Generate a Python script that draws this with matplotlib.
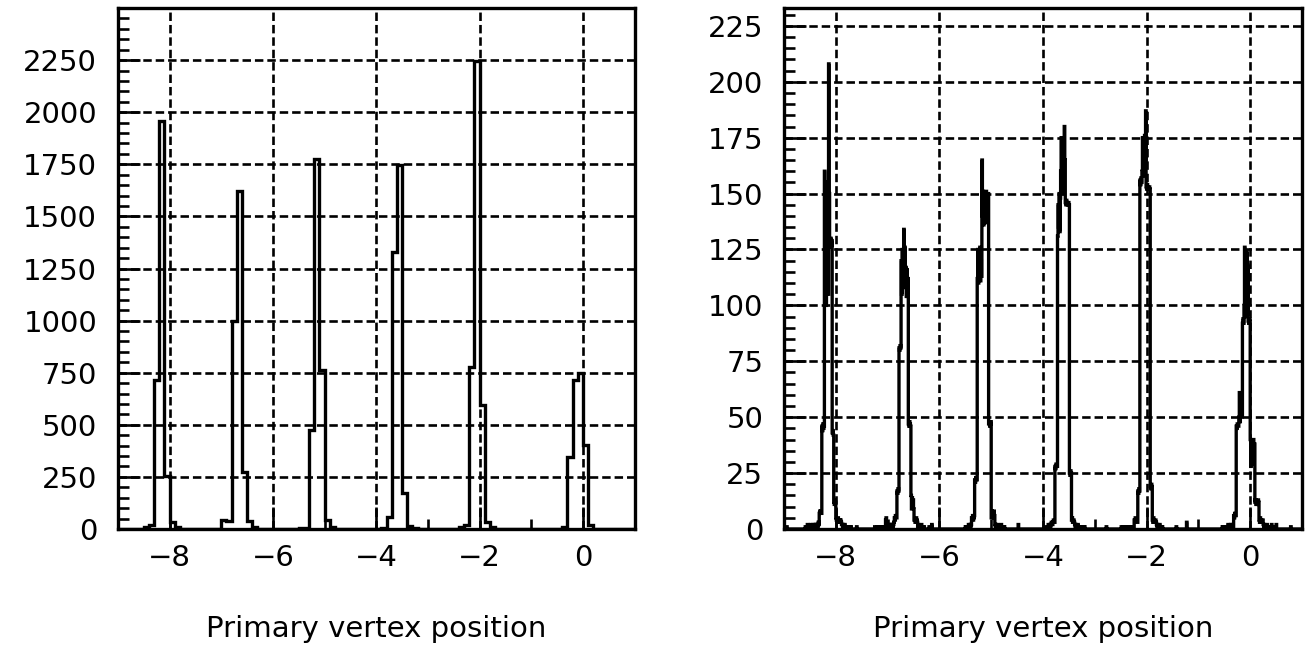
import numpy as np
import matplotlib
matplotlib.use("Agg")
import matplotlib.pyplot as plt
from matplotlib.ticker import MultipleLocator, FixedLocator

# ---- left panel: 100 bins of 0.1 between -9 and 1
left_lo, left_hi = -9.0, 1.0
left_counts = [
    0, 0, 0, 0, 0, 10, 20, 714, 1960, 255,        # -9.0 .. -8.1
    35, 8, 0, 0, 0, 0, 0, 0, 0, 0,                # -8.0 .. -7.1
    45, 40, 996, 1620, 274, 37, 8, 0, 0, 0,       # -7.0 .. -6.1
    0, 0, 0, 0, 0, 5, 5, 476, 1775, 762,          # -6.0 .. -5.1
    45, 8, 0, 0, 0, 0, 0, 0, 0, 0,                # -5.0 .. -4.1
    0, 5, 58, 1327, 1748, 174, 13, 5, 0, 0,       # -4.0 .. -3.1
    0, 0, 0, 0, 0, 0, 8, 20, 775, 2245,           # -3.0 .. -2.1
    597, 32, 8, 0, 0, 0, 0, 0, 0, 0,              # -2.0 .. -1.1
    0, 0, 0, 0, 0, 0, 8, 345, 714, 750,           # -1.0 .. -0.1
    403, 20, 0, 0, 0, 0, 0, 0, 0, 0,              #  0.0 ..  0.9
]

# ---- right panel: 1000 bins of 0.01, given as runs of bins around each peak
right_lo, right_hi, right_nbins = -9.0, 1.0, 1000
right_seg_start = [-8.60, -7.25, -5.50, -3.95, -2.45, -0.55]
right_seg_counts = [
    # peak near -8.2
    [0, 1, 0, 0, 1, 2, 1, 0, 1, 1, 0, 2, 1, 1, 0, 1, 2, 1, 1, 2, 1, 2, 1, 2, 2, 1, 3, 2,
     7, 8, 7, 8, 7,
     46, 44, 47, 45, 46,
     160, 110, 150, 100, 145, 120, 155, 105,
     208, 150,
     129, 126, 130, 127, 129,
     43, 44, 42,
     12, 11, 13, 12,
     5, 4, 3, 4, 5, 3, 4, 4, 3, 4, 3, 2,
     2, 1, 2, 1, 1, 2, 0, 1, 1, 0, 1, 0, 1, 0, 0, 1, 0, 1],
    # peak near -6.7
    [1, 0, 0, 0, 1, 0, 0, 1, 0, 0, 1, 0, 1, 0, 0, 1, 0, 1, 0, 1, 0,
     4, 5, 3,
     1, 1, 2, 1, 1, 2, 1, 2, 1, 2, 2, 1, 2, 3,
     5, 4, 6, 5, 5,
     17, 16, 18, 17,
     81, 80, 82, 81,
     120, 105, 125, 110, 124, 134, 118, 126, 108, 117, 104, 116, 106, 112,
     47, 46, 48, 47, 46,
     15, 9, 14, 10, 13, 9,
     4, 4, 3, 4, 5, 4, 3,
     1, 2, 1, 1, 0, 1, 0, 2, 1, 0, 1, 0, 1],
    # peak near -5.15
    [1, 0, 1, 1, 0, 1, 2, 1, 1, 2, 1, 2,
     5, 5, 6, 4, 5, 6,
     22, 21, 23, 22, 22,
     112, 125, 110, 124, 115, 126, 111, 120, 113,
     165, 140,
     151, 136, 150, 138, 149, 140, 151, 137, 147, 139, 150,
     47, 48, 46, 47, 48,
     5, 8, 6, 7, 5, 8, 6,
     2, 1, 2, 1, 1, 2, 1, 0, 1, 1, 0, 1, 2, 0, 1, 0, 1, 0, 1],
    # peak near -3.6
    [0, 1, 1, 0, 1, 2, 1, 1, 2, 1, 2,
     3, 3, 2, 3, 4, 3, 3,
     28, 27, 29, 28, 28,
     131, 145, 135, 150, 133, 148,
     160, 175, 152, 170, 155, 173, 150, 180, 165,
     146, 145, 147, 146, 145, 146, 146, 145,
     25, 24, 26, 25,
     4, 5, 3, 4, 4, 3,
     2, 1, 2, 1, 1, 0, 2, 1, 0, 1, 1, 0, 1, 0, 1, 0, 0, 1, 0, 1],
    # peak near -2.05
    [1, 0, 0, 1, 0, 1, 0, 0, 1, 1, 0, 1, 0, 1, 1, 0, 1, 1, 0, 1, 1,
     4, 3, 5, 4, 4, 4, 3,
     17, 16, 18, 17,
     156, 154, 157, 155,
     160, 175, 158, 172, 162, 176, 165, 187,
     153, 152, 154, 153, 152, 153, 153, 152,
     19, 18, 20, 19,
     4, 3, 5, 4, 3, 4, 4, 3,
     2, 1, 2, 1, 0, 1, 2, 0, 1, 1, 0, 1],
    # peak near -0.1
    [0, 1, 0, 1, 1, 0, 1, 0, 1, 1, 0, 1, 2, 1, 0, 1, 1, 2, 1, 1, 2, 1, 1,
     6, 5, 7, 6, 6,
     46, 45, 47, 46, 46,
     50, 61, 48, 60, 52, 59, 50,
     92, 94, 92,
     100, 126, 95, 120, 98, 124, 96, 118,
     93, 92, 94, 93,
     40, 28, 38, 30, 39, 29, 40, 31, 38,
     12, 13, 11, 12, 12, 11, 13, 12,
     4, 3, 5, 4, 4, 3, 4, 4,
     2, 1, 2, 1, 1, 0, 1, 2, 1, 0, 1, 1, 0, 1, 0, 1, 2, 1, 0, 1, 0, 0, 1, 0, 1, 2],
]
right_iso_x = [-8.95, -7.60, -6.20, -6.15, -4.48, -2.78, -2.49, -1.43, -1.23, 0.78]
right_iso_n = [1, 1, 1, 2, 2, 1, 1, 1, 3, 1]

xlabel = "Primary vertex position"
x_major = [-8, -6, -4, -2, 0]
x_minor = [-9, -7, -5, -3, -1, 1]

# build histogram arrays
left_edges = np.linspace(left_lo, left_hi, len(left_counts) + 1)
right_edges = np.linspace(right_lo, right_hi, right_nbins + 1)
right_counts = np.zeros(right_nbins)
bw = (right_hi - right_lo) / right_nbins
for s, vals in zip(right_seg_start, right_seg_counts):
    i0 = int(round((s - right_lo) / bw))
    right_counts[i0:i0 + len(vals)] = vals
for xv, nv in zip(right_iso_x, right_iso_n):
    right_counts[int(round((xv - right_lo) / bw))] = nv

plt.rcParams['font.family'] = ['DejaVu Sans']

fig = plt.figure(figsize=(13.08, 6.52), dpi=100)
ax1 = fig.add_axes([118 / 1308, 123 / 652, 516.5 / 1308, 521 / 652])
ax2 = fig.add_axes([784 / 1308, 123 / 652, 518 / 1308, 521 / 652])

panels = [
    (ax1, left_edges, np.array(left_counts, float), 2500, 50, np.arange(0, 2251, 250)),
    (ax2, right_edges, right_counts, 233, 5, np.arange(0, 226, 25)),
]

for ax, edges, counts, ymax, ymin_step, yt in panels:
    ax.stairs(counts, edges, color='black', lw=2.4, baseline=0)
    ax.set_xlim(-9, 1)
    ax.set_ylim(0, ymax)
    ax.xaxis.set_major_locator(FixedLocator(x_major))
    ax.xaxis.set_minor_locator(FixedLocator(x_minor))
    ax.yaxis.set_major_locator(FixedLocator(yt))
    ax.yaxis.set_minor_locator(MultipleLocator(ymin_step))
    ax.set_xticklabels([f"\u2212{-v}" if v < 0 else f"{v}" for v in x_major])
    ax.grid(True, which='major', color='black', lw=1.9, linestyle=(0, (3.2, 1.5)))
    ax.tick_params(axis='both', which='both', direction='in', top=False, right=False,
                   width=1.9, labelsize=21)
    ax.tick_params(axis='y', which='major', length=16, pad=15)
    ax.tick_params(axis='y', which='minor', length=8)
    ax.tick_params(axis='x', which='major', length=16, pad=11)
    ax.tick_params(axis='x', which='minor', length=7)
    for sp in ax.spines.values():
        sp.set_linewidth(2.4)
    ax.set_xlabel(xlabel, fontsize=21)
    ax.xaxis.set_label_coords(0.5, -0.165)

fig.savefig("out.png", dpi=100)
